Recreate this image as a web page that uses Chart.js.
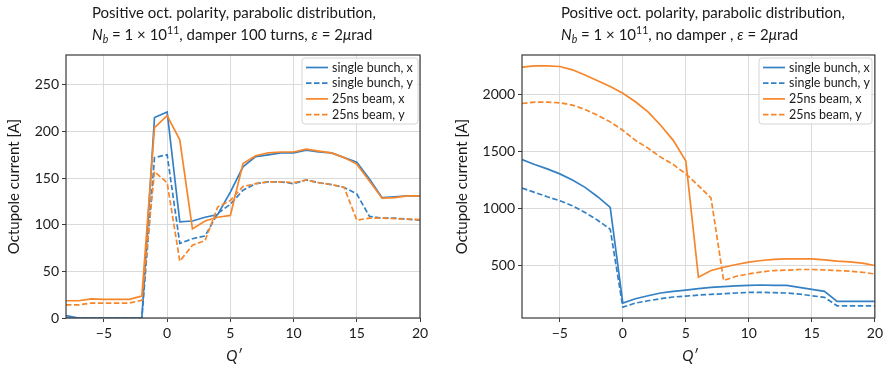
<!DOCTYPE html>
<html>
<head>
<meta charset="utf-8">
<script src="https://cdn.jsdelivr.net/npm/chart.js@4.4.0/dist/chart.umd.min.js"></script>
<style>
    html, body { margin: 0; padding: 0; background: #fff; }
    #wrap { position: relative; width: 886px; height: 368px; }
    .panel { position: absolute; top: 0; width: 443px; height: 368px; }
</style>
</head>
<body>
<div id="wrap">
    <div class="panel" style="left:0"><canvas id="damperChart" width="443" height="368"></canvas></div>
    <div class="panel" style="left:443px"><canvas id="noDamperChart" width="443" height="368"></canvas></div>
</div>
<script>
// Chromaticity values Q'
const qPrime = [-8, -7, -6, -5, -4, -3, -2, -1, 0, 1, 2, 3, 4, 5, 6, 7, 8, 9, 10, 11, 12, 13, 14, 15, 16, 17, 18, 19, 20];

// Left panel: damper 100 turns
const damperSingleX = [2.5, 0, 0, 0, 0, 0, 0, 215, 221, 103, 104, 108, 111, 135, 162, 173, 175, 177, 177, 180, 178, 177, 172, 167, 149, 129, 130, 131, 131];
const damperSingleY = [0, 0, 0, 0, 0, 0, 0, 172, 175, 80, 85, 88, 112, 122, 137, 144, 146, 146, 144, 148, 145, 143, 140, 133, 109, 107, 107, 106, 105];
const damperBeamX = [18.5, 18.5, 20.5, 20, 20, 20, 23.5, 204, 217, 191, 95.5, 104, 108, 110, 165.5, 174, 177, 178, 178, 181, 179, 177, 172, 165, 147, 128.5, 129, 131, 131];
const damperBeamY = [14, 14, 16, 16, 16, 16, 19, 157, 145, 61, 78, 83, 119, 126, 141, 144, 146, 146, 145, 148, 145, 143, 140, 105, 107, 107, 106.5, 106, 105.5];

// Right panel: no damper
const noDamperSingleX = [1429, 1385, 1347, 1303, 1250, 1185, 1103, 1009, 171, 209, 235, 259, 274, 285, 297, 309, 315, 321, 326, 329, 326, 326, 309, 291, 274, 185, 185, 185, 185];
const noDamperSingleY = [1179, 1141, 1103, 1068, 1024, 965, 897, 818, 135, 171, 191, 209, 224, 232, 241, 247, 253, 259, 265, 265, 262, 259, 250, 235, 221, 147, 147, 147, 147];
const noDamperBeamX = [2238, 2250, 2250, 2244, 2215, 2170, 2120, 2068, 2009, 1935, 1847, 1729, 1597, 1415, 397, 456, 485, 509, 529, 544, 553, 559, 559, 559, 550, 538, 532, 521, 500];
const noDamperBeamY = [1920, 1932, 1932, 1926, 1906, 1868, 1818, 1759, 1685, 1597, 1529, 1450, 1385, 1303, 1200, 1091, 368, 406, 426, 444, 456, 459, 465, 465, 462, 456, 450, 441, 426];

// Series labels and tick labels
const seriesLabels = ['single bunch, x', 'single bunch, y', '25ns beam, x', '25ns beam, y'];
const xTicks = [-5, 0, 5, 10, 15, 20];
const damperYTicks = [0, 50, 100, 150, 200, 250];
const noDamperYTicks = [500, 1000, 1500, 2000];

const titleLine1 = 'Positive oct. polarity, parabolic distribution,';
const damperTitleLine2 = [
    { text: 'N', italic: true }, { text: 'b', italic: true, sub: true },
    { text: ' = 1 \u00d7 10' }, { text: '11', sup: true },
    { text: ', damper 100 turns, ' }, { text: '\u03b5', italic: true },
    { text: ' = 2' }, { text: '\u03bc', italic: true }, { text: 'rad' }
];
const noDamperTitleLine2 = [
    { text: 'N', italic: true }, { text: 'b', italic: true, sub: true },
    { text: ' = 1 \u00d7 10' }, { text: '11', sup: true },
    { text: ', no damper , ' }, { text: '\u03b5', italic: true },
    { text: ' = 2' }, { text: '\u03bc', italic: true }, { text: 'rad' }
];

const BLUE = '#3480c4';
const ORANGE = '#f7862a';
const FONT = 'Lato, "Open Sans", sans-serif';
const TEXT_COLOR = '#1a1a1a';

function buildDatasets(sx, sy, bx, by) {
    const pts = arr => arr.map((v, i) => ({ x: qPrime[i], y: v }));
    const common = { borderWidth: 1.7, pointRadius: 0, tension: 0, fill: false };
    return [
        { ...common, label: seriesLabels[0], data: pts(sx), borderColor: BLUE, order: 4 },
        { ...common, label: seriesLabels[1], data: pts(sy), borderColor: BLUE, borderDash: [5.5, 2.5], order: 3 },
        { ...common, label: seriesLabels[2], data: pts(bx), borderColor: ORANGE, order: 2 },
        { ...common, label: seriesLabels[3], data: pts(by), borderColor: ORANGE, borderDash: [5.5, 2.5], order: 1 }
    ];
}

// Draw a line of mixed text (italic, sub/superscript)
function drawRichText(ctx, parts, x, y, size) {
    let cx = x;
    parts.forEach(p => {
        const fs = (p.sub || p.sup) ? size * 0.7 : size;
        ctx.font = `${p.italic ? 'italic ' : ''}${fs}px ${FONT}`;
        let dy = 0;
        if (p.sub) dy = size * 0.22;
        if (p.sup) dy = -size * 0.4;
        ctx.fillText(p.text, cx, y + dy);
        cx += ctx.measureText(p.text).width;
    });
}

// Title, axis titles, frame and framed legend
function decorPlugin(cfg) {
    return {
        id: 'decor',
        afterDraw(chart) {
            const ctx = chart.ctx;
            const a = chart.chartArea;
            ctx.save();

            // frame
            ctx.strokeStyle = '#3a3a3a';
            ctx.lineWidth = 1.2;
            ctx.strokeRect(a.left, a.top, a.right - a.left, a.bottom - a.top);

            // title
            ctx.fillStyle = TEXT_COLOR;
            ctx.textAlign = 'left';
            ctx.textBaseline = 'alphabetic';
            ctx.font = `15px ${FONT}`;
            ctx.fillText(titleLine1, cfg.titleX, 17.5);
            drawRichText(ctx, cfg.titleLine2, cfg.titleX, 39.5, 15);

            // y axis title
            ctx.save();
            ctx.translate(cfg.yTitleX, (a.top + a.bottom) / 2);
            ctx.rotate(-Math.PI / 2);
            ctx.textAlign = 'center';
            ctx.textBaseline = 'middle';
            ctx.font = `15px ${FONT}`;
            ctx.fillText('Octupole current [A]', 0, 0);
            ctx.restore();

            // x axis title
            ctx.textAlign = 'center';
            ctx.textBaseline = 'middle';
            ctx.font = `italic 15px ${FONT}`;
            ctx.fillText('Q\u2032', cfg.xTitleX, 356.5);

            // legend
            const lg = cfg.legend;
            ctx.fillStyle = 'rgba(255,255,255,0.85)';
            ctx.strokeStyle = '#d4d4d4';
            ctx.lineWidth = 1;
            ctx.beginPath();
            ctx.roundRect(lg.x, lg.y, lg.w, lg.h, 3);
            ctx.fill();
            ctx.stroke();
            ctx.font = `12.5px ${FONT}`;
            ctx.textAlign = 'left';
            ctx.textBaseline = 'middle';
            chart.data.datasets.forEach((ds, i) => {
                const ry = lg.y + 9.5 + i * 15.7;
                ctx.strokeStyle = ds.borderColor;
                ctx.lineWidth = ds.borderWidth;
                ctx.setLineDash(ds.borderDash || []);
                ctx.beginPath();
                ctx.moveTo(lg.x + 4, ry);
                ctx.lineTo(lg.x + 26, ry);
                ctx.stroke();
                ctx.setLineDash([]);
                ctx.fillStyle = TEXT_COLOR;
                ctx.fillText(ds.label, lg.x + 30, ry);
            });
            ctx.restore();
        }
    };
}

function buildOptions(yMin, yMax, yTickValues, yWidth, rightPad) {
    const gridColor = '#dadada';
    return {
        responsive: false,
        animation: false,
        layout: { padding: { top: 55, right: rightPad, left: 0, bottom: 0 } },
        plugins: { legend: { display: false }, tooltip: { enabled: false } },
        scales: {
            x: {
                type: 'linear',
                min: -8,
                max: 20,
                afterBuildTicks: scale => { scale.ticks = xTicks.map(v => ({ value: v })); },
                afterFit: scale => { scale.height = 50; },
                grid: { color: gridColor, tickColor: '#3a3a3a', tickLength: 4 },
                border: { display: false },
                ticks: {
                    padding: 3,
                    color: TEXT_COLOR,
                    font: { family: FONT, size: 14 },
                    maxRotation: 0,
                    callback: v => (v < 0 ? '\u2212' + Math.abs(v) : String(v))
                }
            },
            y: {
                min: yMin,
                max: yMax,
                afterBuildTicks: scale => { scale.ticks = yTickValues.map(v => ({ value: v })); },
                afterFit: scale => { scale.width = yWidth; },
                grid: { color: gridColor, tickColor: '#3a3a3a', tickLength: 4 },
                border: { display: false },
                ticks: {
                    padding: 3,
                    color: TEXT_COLOR,
                    font: { family: FONT, size: 14 },
                    callback: v => String(v)
                }
            }
        }
    };
}

// Left panel
new Chart(document.getElementById('damperChart').getContext('2d'), {
    type: 'line',
    data: { datasets: buildDatasets(damperSingleX, damperSingleY, damperBeamX, damperBeamY) },
    options: buildOptions(0, 282, damperYTicks, 66, 23),
    plugins: [decorPlugin({
        titleX: 92,
        titleLine2: damperTitleLine2,
        yTitleX: 14,
        xTitleX: 234,
        legend: { x: 302, y: 58, w: 116, h: 66 }
    })]
});

// Right panel
new Chart(document.getElementById('noDamperChart').getContext('2d'), {
    type: 'line',
    data: { datasets: buildDatasets(noDamperSingleX, noDamperSingleY, noDamperBeamX, noDamperBeamY) },
    options: buildOptions(40, 2345, noDamperYTicks, 79, 9),
    plugins: [decorPlugin({
        titleX: 118,
        titleLine2: noDamperTitleLine2,
        yTitleX: 19,
        xTitleX: 247,
        legend: { x: 316, y: 58, w: 113, h: 66 }
    })]
});
</script>
</body>
</html>
